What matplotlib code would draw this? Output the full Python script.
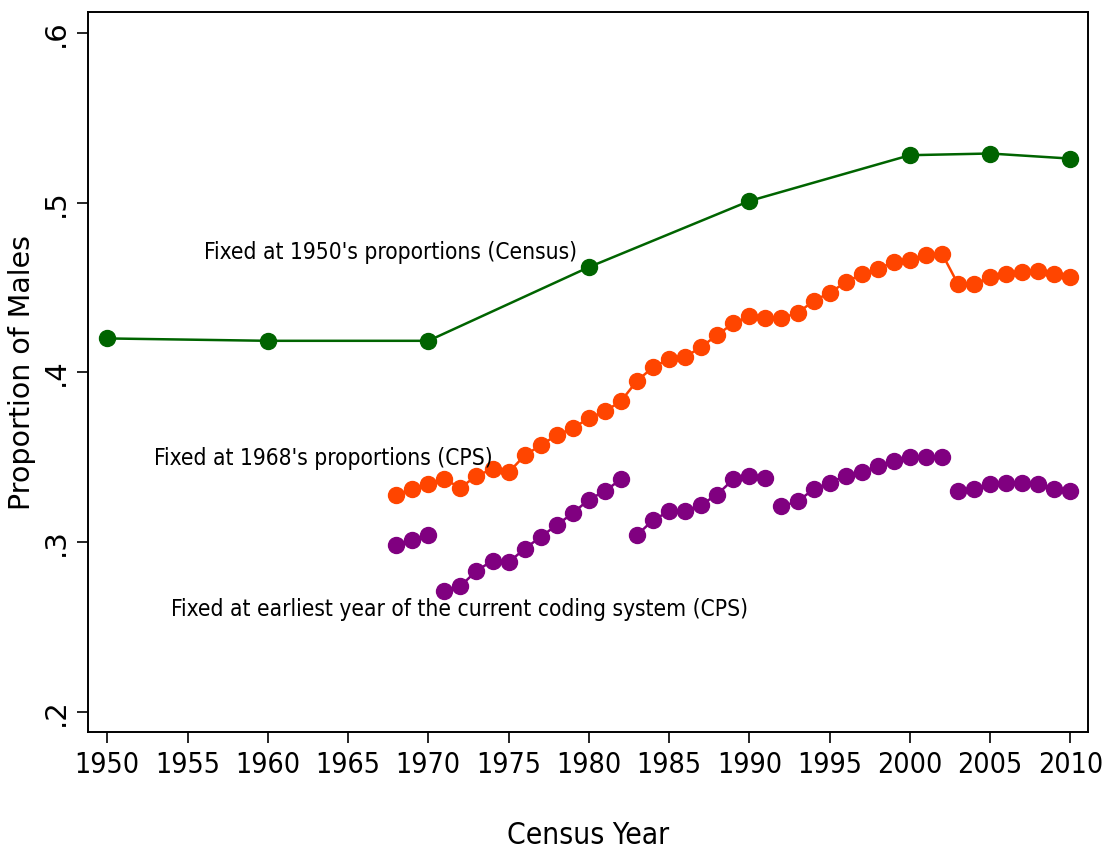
import numpy as np
import matplotlib
matplotlib.use("Agg")
import matplotlib.pyplot as plt

# Census series, fixed at 1950 proportions
census_years = [1950, 1960, 1970, 1980, 1990, 2000, 2005, 2010]
census_vals = [0.420, 0.4186, 0.4186, 0.462, 0.501, 0.528, 0.529, 0.526]

# CPS series, fixed at 1968 proportions
cps_years = list(range(1968, 2011))
cps68_vals = [0.328, 0.331, 0.334, 0.337, 0.332, 0.339, 0.343, 0.341, 0.351,
              0.357, 0.363, 0.367, 0.373, 0.377, 0.383, 0.395, 0.403, 0.408,
              0.409, 0.415, 0.422, 0.429, 0.433, 0.432, 0.432, 0.435, 0.442,
              0.447, 0.453, 0.458, 0.461, 0.465, 0.466, 0.469, 0.470, 0.452,
              0.452, 0.456, 0.458, 0.459, 0.460, 0.458, 0.456]

# CPS series, fixed at earliest year of each coding system
earliest_vals = [0.298, 0.301, 0.304, 0.271, 0.274, 0.283, 0.289, 0.288, 0.296,
                 0.303, 0.310, 0.317, 0.325, 0.330, 0.337, 0.304, 0.313, 0.318,
                 0.318, 0.322, 0.328, 0.337, 0.339, 0.338, 0.321, 0.324, 0.331,
                 0.335, 0.339, 0.341, 0.345, 0.348, 0.350, 0.350, 0.350, 0.330,
                 0.331, 0.334, 0.335, 0.335, 0.334, 0.331, 0.330]
coding_starts = [1971, 1983, 1992, 2003]

green = "#006400"
orange = "#FF4500"
purple = "#800080"

fig = plt.figure(figsize=(11.08, 8.52), dpi=100)
ax = fig.add_axes([0.0794, 0.1408, 0.9026, 0.8451])

ax.plot(census_years, census_vals, "-o", color=green, lw=1.8, ms=11.5)
ax.plot(cps_years, cps68_vals, "-o", color=orange, lw=1.8, ms=11.5)

# break the earliest-year series where the coding system changes
yrs = np.array(cps_years)
vals = np.array(earliest_vals)
cuts = [cps_years.index(y) for y in coding_starts]
for seg_y, seg_v in zip(np.split(yrs, cuts), np.split(vals, cuts)):
    ax.plot(seg_y, seg_v, "-o", color=purple, lw=1.8, ms=11.5)

cond = dict(family="DejaVu Sans", fontstretch="condensed")
ax.text(1956.0, 0.4705, "Fixed at 1950's proportions (Census)", fontsize=16.3,
        va="center", ha="left", **cond)
ax.text(1952.9, 0.349, "Fixed at 1968's proportions (CPS)", fontsize=16.3,
        va="center", ha="left", **cond)
ax.text(1954.0, 0.260, "Fixed at earliest year of the current coding system (CPS)",
        fontsize=16.3, va="center", ha="left", **cond)

ax.set_xlim(1948.8, 2011.1)
ax.set_ylim(0.188, 0.6124)
ax.set_xticks(range(1950, 2011, 5))
ax.set_xticklabels([str(y) for y in range(1950, 2011, 5)], fontsize=20.5, **cond)
yt = [0.2, 0.3, 0.4, 0.5, 0.6]
ax.set_yticks(yt)
ax.set_yticklabels([".2", ".3", ".4", ".5", ".6"], family="DejaVu Sans",
                   fontsize=21, rotation=90, va="center")
ax.tick_params(axis="both", direction="out", length=8, width=1.2, color="black")
ax.tick_params(axis="x", pad=6)
ax.tick_params(axis="y", pad=5)
for s in ax.spines.values():
    s.set_linewidth(1.4)

ax.set_xlabel("Census Year", fontsize=21.5, labelpad=30, **cond)
ax.set_ylabel("Proportion of Males", family="DejaVu Sans", fontsize=20.5)
ax.yaxis.set_label_coords(-0.052, 0.5)

fig.savefig("out.png", dpi=100)
